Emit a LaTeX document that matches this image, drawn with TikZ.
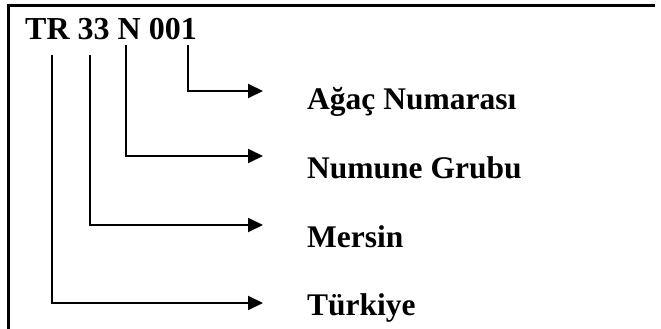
\documentclass[tikz,border=0pt]{standalone}
\usepackage{fontspec}
\setmainfont{Liberation Serif}
\usetikzlibrary{arrows.meta}
\usetikzlibrary{positioning}

\tikzset{
  lbl/.style={anchor=base west, inner sep=0pt, font=\fontsize{31.5}{31.5}\selectfont\bfseries},
  arr/.style={line width=2pt, -{Triangle[length=15pt, width=14pt]}},
  frame/.style={line width=3pt}
}

\begin{document}
\begin{tikzpicture}[x=1pt, y=-1pt]
  \useasboundingbox (0,0) rectangle (661,329);

  % ===== Frame (top and left only) =====
  \draw[frame] (655,5.5) -- (8.5,5.5) -- (8.5,329);

  % Code
  \node[lbl, font=\fontsize{32}{32}\selectfont\bfseries] (code) at (25,40) {TR 33 N 001};

  % Meanings
  \node[lbl] (agac)   at (307,109) {Ağaç Numarası};
  \node[lbl] (grup)   at (307,178) {Numune Grubu};
  \node[lbl] (il)     at (307,247) {Mersin};
  \node[lbl] (ulke)   at (307,315) {Türkiye};

  % start points under the code
  \coordinate (sTR)  at (52,55);
  \coordinate (s33)  at (90,55);
  \coordinate (sN)   at (126,45);
  \coordinate (s001) at (188,45);

  % arrow ends in front of the meanings
  \coordinate (eagac) at (263,91);
  \coordinate (egrup) at (263,156);
  \coordinate (eil)   at (263,225);
  \coordinate (eulke) at (263,303);

  \draw[arr] (s001) |- (eagac);
  \draw[arr] (sN)   |- (egrup);
  \draw[arr] (s33)  |- (eil);
  \draw[arr] (sTR)  |- (eulke);
\end{tikzpicture}
\end{document}
